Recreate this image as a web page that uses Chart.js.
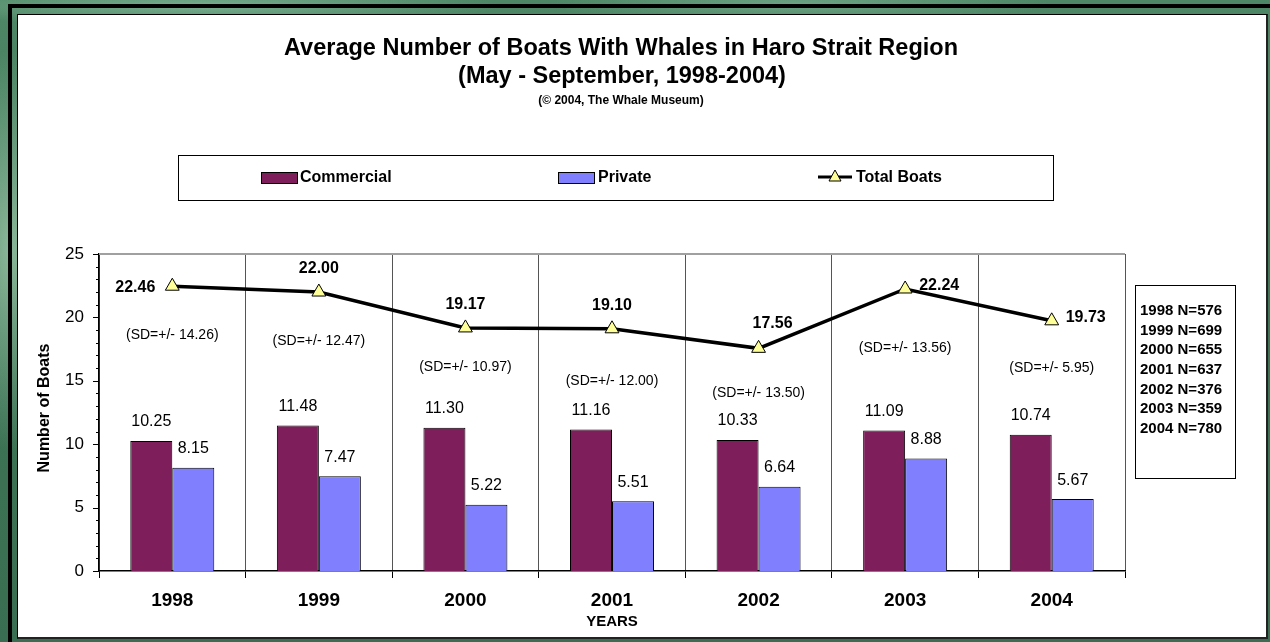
<!DOCTYPE html>
<html>
<head>
<meta charset="utf-8">
<script src="https://cdn.jsdelivr.net/npm/chart.js@4.4.1/dist/chart.umd.min.js"></script>
<style>
  html, body { margin: 0; padding: 0; }
  body {
    width: 1270px; height: 642px; overflow: hidden; position: relative;
    background:
      radial-gradient(ellipse 60px 200px at 10px 250px, rgba(170, 210, 180, 0.7), rgba(170, 210, 180, 0) 100%),
      radial-gradient(ellipse 300px 20px at 200px 6px, rgba(150, 200, 170, 0.6), rgba(150, 200, 170, 0) 100%),
      radial-gradient(ellipse 250px 20px at 800px 4px, rgba(140, 190, 160, 0.5), rgba(140, 190, 160, 0) 100%),
      linear-gradient(180deg, #4d8766 0%, #3e7556 50%, #3a6e52 100%);
  }
  #frame {
    position: absolute; left: 8px; top: 4px; right: 0; bottom: 0;
    border-top: 4px solid #000; border-left: 4px solid #000;
  }
  #panel {
    position: absolute; left: 17px; top: 14px; width: 1248px; height: 622px;
    background: #fff; border: 1px solid #000; border-right: 2px solid #222; border-bottom: 2px solid #222;
  }
  #grafico { position: absolute; left: 0; top: 0; }
</style>
</head>
<body>
<div id="frame"></div>
<div id="panel"></div>
<canvas id="grafico" width="1270" height="642"></canvas>
<script>
// Dados das temporadas (maio a setembro)
const anos = ['1998', '1999', '2000', '2001', '2002', '2003', '2004'];
const comerciais = [10.25, 11.48, 11.30, 11.16, 10.33, 11.09, 10.74];
const particulares = [8.15, 7.47, 5.22, 5.51, 6.64, 8.88, 5.67];
const totalBarcos = [22.46, 22.00, 19.17, 19.10, 17.56, 22.24, 19.73];
const desvios = [14.26, 12.47, 10.97, 12.00, 13.50, 13.56, 5.95];
const amostras = [576, 699, 655, 637, 376, 359, 780];
const ticksY = [0, 5, 10, 15, 20, 25];

// Altura (em unidades do eixo) onde fica cada texto de desvio padrão
const alturaDesvio = [18.6, 18.1, 16.1, 15.0, 14.0, 17.6, 16.0];
// Lado do rótulo do total em relação ao ponto
const ladoTotal = ['left', 'above', 'above', 'above', 'aboveRight', 'right', 'right'];

const FONTE = '"Liberation Sans", Arial, sans-serif';

// Plugin que desenha títulos, legenda, caixa de N e rótulos
const rotulos = {
    id: 'rotulos',
    afterDraw(chart) {
        const ctx = chart.ctx;
        const area = chart.chartArea;
        const x = chart.scales.x;
        const y = chart.scales.y;
        ctx.save();

        // borda superior cinza da área do gráfico
        ctx.strokeStyle = '#a0a0a0';
        ctx.lineWidth = 2;
        ctx.beginPath();
        ctx.moveTo(area.left, area.top);
        ctx.lineTo(area.right, area.top);
        ctx.stroke();

        // marcas do eixo Y (maiores a cada 5)
        ctx.strokeStyle = '#000';
        ctx.lineWidth = 1;
        for (let v = 0; v <= 25; v++) {
            const py = Math.round(y.getPixelForValue(v)) + 0.5;
            const len = v % 5 === 0 ? 6 : 3;
            ctx.beginPath();
            ctx.moveTo(area.left - len, py);
            ctx.lineTo(area.left, py);
            ctx.stroke();
        }

        // títulos
        ctx.fillStyle = '#000';
        ctx.textAlign = 'center';
        ctx.textBaseline = 'middle';
        ctx.font = 'bold 23.5px ' + FONTE;
        ctx.fillText('Average Number of Boats With Whales in Haro Strait Region', 621, 49);
        ctx.fillText('(May - September, 1998-2004)', 622, 77);
        ctx.font = 'bold 12px ' + FONTE;
        ctx.fillText('(\u00A9 2004, The Whale Museum)', 621, 101);

        // título do eixo X
        ctx.font = 'bold 15px ' + FONTE;
        ctx.fillText('YEARS', 612, 622);

        // título do eixo Y
        ctx.save();
        ctx.translate(45, 408);
        ctx.rotate(-Math.PI / 2);
        ctx.font = 'bold 16px ' + FONTE;
        ctx.fillText('Number of Boats', 0, 0);
        ctx.restore();

        // legenda
        const ds = chart.data.datasets;
        ctx.strokeStyle = '#000';
        ctx.lineWidth = 1;
        ctx.strokeRect(178.5, 155.5, 875, 45);
        ctx.font = 'bold 16px ' + FONTE;
        ctx.textAlign = 'left';
        const itens = [{ sx: 261, tx: 300 }, { sx: 558, tx: 598 }];
        itens.forEach((it, i) => {
            ctx.fillStyle = ds[i].backgroundColor;
            ctx.fillRect(it.sx, 172, 36, 11);
            ctx.strokeRect(it.sx + 0.5, 172.5, 36, 11);
            ctx.fillStyle = '#000';
            ctx.fillText(ds[i].label, it.tx, 178);
        });
        ctx.lineWidth = 3;
        ctx.beginPath();
        ctx.moveTo(818, 177);
        ctx.lineTo(852, 177);
        ctx.stroke();
        ctx.lineWidth = 1;
        ctx.fillStyle = ds[2].pointBackgroundColor;
        ctx.beginPath();
        ctx.moveTo(835, 170);
        ctx.lineTo(841, 181);
        ctx.lineTo(829, 181);
        ctx.closePath();
        ctx.fill();
        ctx.stroke();
        ctx.fillStyle = '#000';
        ctx.fillText(ds[2].label, 856, 178);

        // caixa com tamanho das amostras
        ctx.strokeRect(1135.5, 285.5, 100, 193);
        ctx.font = 'bold 15px ' + FONTE;
        anos.forEach((a, i) => {
            ctx.fillText(a + ' N=' + amostras[i], 1140, 311 + i * 19.6);
        });

        // valores das barras
        ctx.textAlign = 'center';
        ctx.font = '16px ' + FONTE;
        [0, 1].forEach(d => {
            chart.getDatasetMeta(d).data.forEach((bar, i) => {
                const v = ds[d].data[i];
                ctx.fillText(v.toFixed(2), bar.x, bar.y - 19);
            });
        });

        // desvio padrão
        ctx.font = '14px ' + FONTE;
        desvios.forEach((sd, i) => {
            const px = x.getPixelForValue(i);
            ctx.fillText('(SD=+/- ' + sd.toFixed(2) + ')', px, y.getPixelForValue(alturaDesvio[i]));
        });

        // valores do total
        ctx.font = 'bold 16px ' + FONTE;
        chart.getDatasetMeta(2).data.forEach((pt, i) => {
            const txt = totalBarcos[i].toFixed(2);
            const lado = ladoTotal[i];
            if (lado === 'left') {
                ctx.textAlign = 'right';
                ctx.fillText(txt, pt.x - 17, pt.y + 1);
            } else if (lado === 'right') {
                ctx.textAlign = 'left';
                ctx.fillText(txt, pt.x + 14, pt.y - 3);
            } else if (lado === 'aboveRight') {
                ctx.textAlign = 'center';
                ctx.fillText(txt, pt.x + 14, pt.y - 25);
            } else {
                ctx.textAlign = 'center';
                ctx.fillText(txt, pt.x, pt.y - 23);
            }
        });

        ctx.restore();
    }
};

const ctxGrafico = document.getElementById('grafico').getContext('2d');
const grafico = new Chart(ctxGrafico, {
    type: 'bar',
    data: {
        labels: anos,
        datasets: [{
            label: 'Commercial',
            data: comerciais,
            backgroundColor: '#7E1F5C',
            borderColor: '#000',
            borderWidth: 1,
            order: 1
        }, {
            label: 'Private',
            data: particulares,
            backgroundColor: '#8080FF',
            borderColor: '#000',
            borderWidth: 1,
            order: 1
        }, {
            type: 'line',
            label: 'Total Boats',
            data: totalBarcos,
            borderColor: '#000',
            borderWidth: 3.5,
            tension: 0,
            pointStyle: 'triangle',
            pointRadius: 8,
            pointHoverRadius: 8,
            pointBackgroundColor: '#FFFF99',
            pointBorderColor: '#000',
            pointBorderWidth: 1,
            order: 0
        }]
    },
    options: {
        responsive: false,
        devicePixelRatio: 1,
        animation: false,
        layout: { padding: { left: 20, right: 145, top: 254, bottom: 10 } },
        datasets: {
            bar: { categoryPercentage: 0.573, barPercentage: 1 }
        },
        plugins: {
            legend: { display: false },
            title: { display: false },
            tooltip: { enabled: false }
        },
        scales: {
            x: {
                offset: true,
                grid: {
                    offset: true,
                    color: '#555',
                    lineWidth: 1,
                    tickLength: 7,
                    tickColor: '#000'
                },
                border: { color: '#000', width: 1.5 },
                ticks: {
                    color: '#000',
                    padding: 11,
                    font: { family: FONTE, size: 19, weight: 'bold' }
                },
                afterFit(scale) { scale.height = 61; }
            },
            y: {
                min: 0,
                max: 25,
                afterBuildTicks(scale) { scale.ticks = ticksY.map(v => ({ value: v })); },
                grid: { display: false, drawTicks: false },
                border: { color: '#000', width: 1.5 },
                ticks: {
                    color: '#000',
                    padding: 15,
                    font: { family: FONTE, size: 17 }
                },
                afterFit(scale) { scale.width = 79; }
            }
        }
    },
    plugins: [rotulos]
});
</script>
</body>
</html>
